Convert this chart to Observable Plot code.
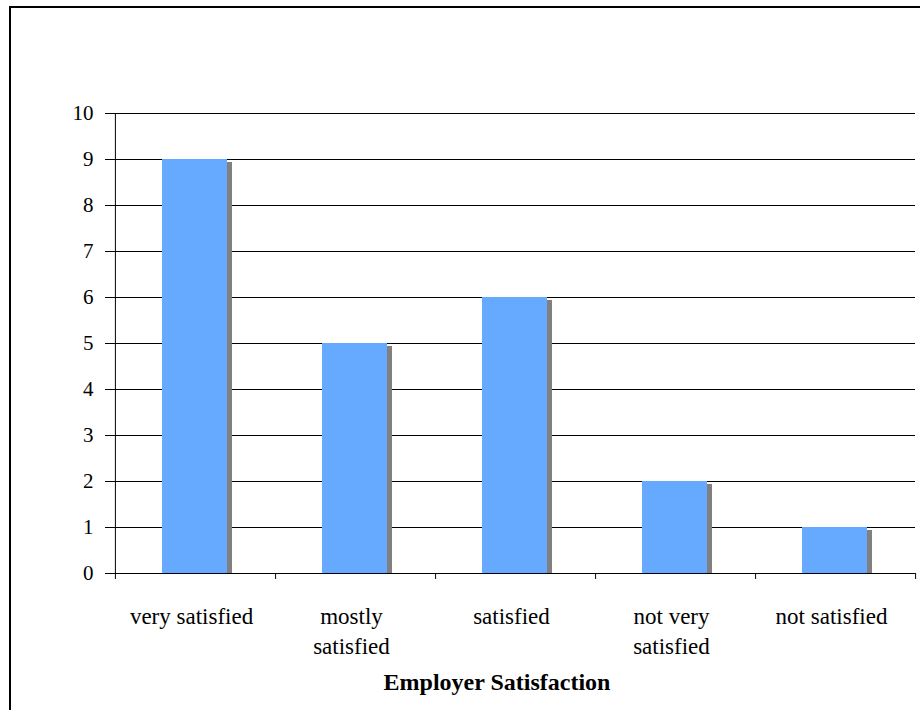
<!DOCTYPE html>
<html>
<head>
<meta charset="utf-8">
<script src="https://cdn.jsdelivr.net/npm/d3@7"></script>
<script src="https://cdn.jsdelivr.net/npm/@observablehq/plot@0.6"></script>
<style>
  html, body { margin: 0; padding: 0; background: #fff; overflow: hidden; width: 920px; height: 710px; }
  #chart { position: absolute; left: 0; top: 0; }
  #chart svg, #chart svg text { font-family: "Liberation Serif", "Times New Roman", serif !important; }
  #border { position: absolute; left: 9px; top: 6px; width: 1000px; height: 1000px; border-left: 2px solid #000; border-top: 2px solid #000; pointer-events: none; }
</style>
</head>
<body>
<div id="chart"></div>
<div id="border"></div>
<script>
const categories = ["very satisfied", "mostly satisfied", "satisfied", "not very satisfied", "not satisfied"];
const tickLabels = ["very satisfied", "mostly\nsatisfied", "satisfied", "not very\nsatisfied", "not satisfied"];
const values = [9, 5, 6, 2, 1];
const yTicks = [0, 1, 2, 3, 4, 5, 6, 7, 8, 9, 10];
const axisTitle = "Employer Satisfaction";

const data = categories.map((c, i) => ({category: c, value: values[i]}));
const half = (915 - 114) / categories.length / 2;
const serif = "Liberation Serif";

const chart = Plot.plot({
  width: 920,
  height: 710,
  marginLeft: 114,
  marginRight: 5,
  marginTop: 113,
  marginBottom: 137,
  style: "font-family: 'Liberation Serif', serif; font-size: 21px; color: #000; background: transparent; overflow: visible;",
  x: {domain: categories, padding: 0},
  y: {domain: [0, 10]},
  marks: [
    Plot.ruleY(yTicks, {stroke: "#000", strokeWidth: 1}),
    Plot.rectY(data, {x: "category", y: "value", fill: "#808080", insetLeft: 47, insetRight: 48, dx: 5, dy: 3, insetBottom: 3}),
    Plot.rectY(data, {x: "category", y: "value", fill: "#66AAFF", insetLeft: 47, insetRight: 48}),
    Plot.ruleX(categories, {x: d => d, dx: half, y1: 0, y2: 0, insetBottom: -6, stroke: "#000"}),
    Plot.ruleX([categories[0]], {x: d => d, dx: -half, y1: 10, y2: 0, insetBottom: -6, stroke: "#000"}),
    Plot.axisY({ticks: yTicks, tickSize: 9, tickPadding: 12, tickFormat: d => String(d), fontSize: 21, fontFamily: serif, label: null, stroke: "#000"}),
    Plot.axisX({tickSize: 0, tickPadding: 29, dx: -4, tickFormat: d => tickLabels[categories.indexOf(d)], fontSize: 23, fontFamily: serif, lineHeight: 1.3, label: null}),
    Plot.text([axisTitle], {frameAnchor: "bottom", text: d => d, dy: 116, dx: -18, fontWeight: "bold", fontSize: 24, fontFamily: serif})
  ]
});
document.getElementById("chart").appendChild(chart);
</script>
</body>
</html>
